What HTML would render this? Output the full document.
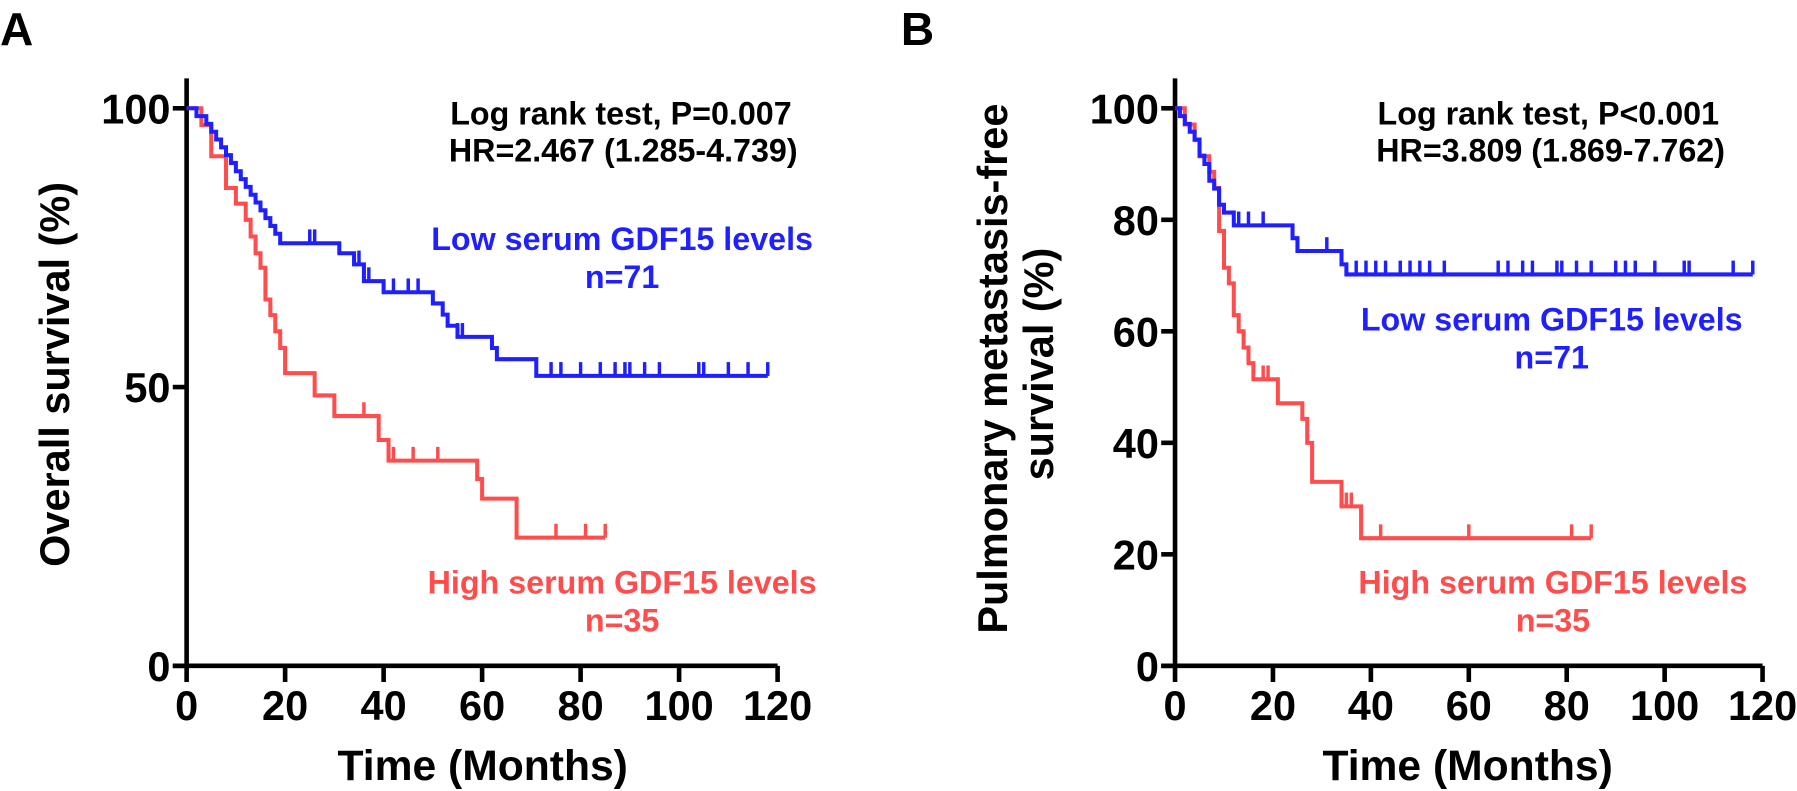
<!DOCTYPE html>
<html><head><meta charset="utf-8"><style>
body{margin:0;background:#fff;}
svg{display:block;font-family:"Liberation Sans",Arial,sans-serif;font-weight:bold;}
</style></head><body>
<svg width="1797" height="791" viewBox="0 0 1797 791">
<g id="chart" transform="scale(1.152)">
<text x="0" y="39" font-size="40">A</text>
<text x="782" y="39" font-size="40">B</text>
<text transform="translate(60,325) rotate(-90)" text-anchor="middle" font-size="36">Overall survival (%)</text>
<text transform="translate(874,320) rotate(-90)" text-anchor="middle" font-size="36">Pulmonary metastasis-free</text>
<text transform="translate(914,316) rotate(-90)" text-anchor="middle" font-size="36">survival (%)</text>
<text x="419" y="677" text-anchor="middle" font-size="37">Time (Months)</text>
<text x="1274" y="677" text-anchor="middle" font-size="37">Time (Months)</text>
<g font-size="28">
<text x="539" y="108" text-anchor="middle">Log rank test, P=0.007</text>
<text x="541" y="140" text-anchor="middle">HR=2.467 (1.285-4.739)</text>
<text x="540" y="217" text-anchor="middle" fill="#1f1fff">Low serum GDF15 levels</text>
<text x="540" y="250" text-anchor="middle" fill="#1f1fff">n=71</text>
<text x="540" y="515" text-anchor="middle" fill="#ff4d4d">High serum GDF15 levels</text>
<text x="540" y="548" text-anchor="middle" fill="#ff4d4d">n=35</text>
<text x="1344" y="108" text-anchor="middle">Log rank test, P&lt;0.001</text>
<text x="1346" y="140" text-anchor="middle">HR=3.809 (1.869-7.762)</text>
<text x="1347" y="287" text-anchor="middle" fill="#1f1fff">Low serum GDF15 levels</text>
<text x="1347" y="320" text-anchor="middle" fill="#1f1fff">n=71</text>
<text x="1348" y="515" text-anchor="middle" fill="#ff4d4d">High serum GDF15 levels</text>
<text x="1348" y="548" text-anchor="middle" fill="#ff4d4d">n=35</text>
</g>
</g>
</svg>
<script>
const xTicks=[0,20,40,60,80,100,120];
const yTicksA=[0,50,100];
const yTicksB=[0,20,40,60,80,100];
const blueA=[[0,100],[2,98.6],[4,97.2],[5,95.8],[6,94.4],[7,93],[8,91.6],[9,90.2],[10,88.7],[11,87.3],[12,85.9],[13,84.5],[14,83.1],[15,81.7],[16,80.3],[17,78.9],[18,77.5],[19,75.8],[31,74],[34,72],[36,69],[40,67],[50,65],[52,63],[53,61],[55,59],[62,57],[63,55],[71,52]];
const blueAEnd=118;
const blueACens=[25,26,35,37,42,45,47,55,56,74,76,80,84,87,89,90,93,96,104,105,110,114,118];
const redA=[[0,100],[3,97],[5,91.4],[8,85.7],[10,82.9],[12,80],[13,77],[14,74],[15,71.4],[16,65.7],[17,62.9],[18,60],[19,57],[20,52.5],[26,48.5],[30,44.8],[39,40.5],[41,36.8],[59,33.5],[60,30],[67,23]];
const redAEnd=85;
const redACens=[15,17,36,42,46,51,75,81,85];
const blueB=[[0,100],[1,98.6],[2,97.2],[3,95.8],[4,94.4],[5,91.5],[6,90],[7,87],[8,85.6],[9,82.7],[10,81.3],[12,79],[24,76.7],[25,74.4],[34,72],[35,70.2]];
const blueBEnd=118;
const blueBCens=[9,13,15,18,31,37,39,41,43,46,48,50,52,55,66,68,71,73,78,79,82,85,90,92,94,98,104,105,114,118];
const redB=[[0,100],[2,97.1],[4,94.3],[5,91.4],[7,88.6],[8,85.7],[9,78],[10,71.4],[11,68.6],[12,62.9],[13,60],[14,57.1],[15,54.3],[16,51.4],[21,47.1],[26,44.3],[27,40],[28,33],[34,28.6],[38,22.9]];
const redBEnd=85;
const redBCens=[18,19,35,36,42,60,81,85];

const NS="http://www.w3.org/2000/svg";
const svg=document.getElementById('chart');
function mk(tag,attrs){const e=document.createElementNS(NS,tag);for(const k in attrs)e.setAttribute(k,attrs[k]);svg.appendChild(e);return e;}
function panel(id,x0,x1,yTicks,ymax,series){
  const y0=578,yTop=94;
  const sx=t=>x0+t*(x1-x0)/120;
  const sy=v=>y0-v*(y0-yTop)/ymax;
  let ax=mk('path',{d:`M${x0},68 V${y0} M${x0-12},${y0} H${x1}`,stroke:'#000','stroke-width':4,fill:'none'});
  
  
  xTicks.forEach(t=>{
    let l=mk('line',{x1:sx(t),x2:sx(t),y1:y0,y2:y0+14,stroke:'#000','stroke-width':4});
    
    
    let tx=mk('text',{x:sx(t),y:y0+47,'text-anchor':'middle','font-size':36});
    tx.textContent=t;
    
    
  });
  yTicks.forEach(v=>{
    let l=mk('line',{x1:x0-12,x2:x0,y1:sy(v),y2:sy(v),stroke:'#000','stroke-width':4});
    
    
    let tx=mk('text',{x:x0-14,y:sy(v)+13,'text-anchor':'end','font-size':36});
    tx.textContent=v;
    
    
  });
  series.forEach(s=>{
    let d=`M${sx(s.pts[0][0])},${sy(s.pts[0][1])}`;
    for(let i=1;i<s.pts.length;i++){d+=` H${sx(s.pts[i][0])} V${sy(s.pts[i][1])}`;}
    d+=` H${sx(s.end)}`;
    let p=mk('path',{d:d,stroke:s.color,'stroke-width':3.5,fill:'none'});
    
    
    s.cens.forEach(c=>{
      let lvl=s.pts[0][1];
      s.pts.forEach(q=>{if(q[0]<=c)lvl=q[1];});
      let m=mk('line',{x1:sx(c),x2:sx(c),y1:sy(lvl),y2:sy(lvl)-12,stroke:s.color,'stroke-width':3});
      
      
    });
  });
}
panel('panel-a',162,675,yTicksA,100,[
  {name:'high',pts:redA,end:redAEnd,cens:redACens,color:'#ff4d4d'},
  {name:'low',pts:blueA,end:blueAEnd,cens:blueACens,color:'#1f1fff'}]);
panel('panel-b',1020,1530,yTicksB,100,[
  {name:'high',pts:redB,end:redBEnd,cens:redBCens,color:'#ff4d4d'},
  {name:'low',pts:blueB,end:blueBEnd,cens:blueBCens,color:'#1f1fff'}]);
</script>
</body></html>
